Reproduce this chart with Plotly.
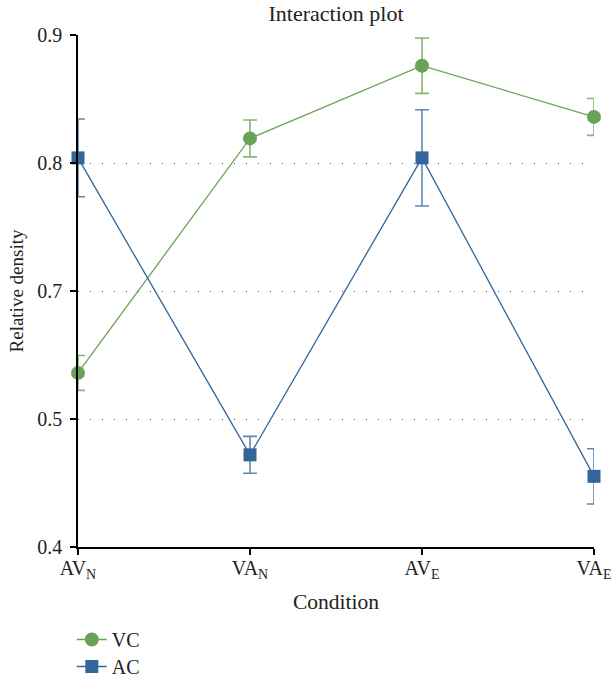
import plotly.graph_objects as go

# Data
conditions = ["AV<sub>N</sub>", "VA<sub>N</sub>", "AV<sub>E</sub>", "VA<sub>E</sub>"]
vc_mean = [0.570, 0.799, 0.870, 0.820]
vc_err = [0.017, 0.018, 0.027, 0.018]
ac_mean = [0.780, 0.490, 0.780, 0.469]
ac_err = [0.038, 0.018, 0.047, 0.027]
ytick_vals = [0.4, 0.525, 0.65, 0.775, 0.9]
ytick_text = ["0.4", "0.5", "0.7", "0.8", "0.9"]

FONT = "Liberation Serif"
FS = 20
green = "#6aa355"
green_err = "#86b673"
blue = "#336699"
blue_err = "#5f88b1"
txt = "#222"

fig = go.Figure()
fig.add_trace(go.Scatter(
    x=conditions, y=vc_mean, name="VC", mode="lines+markers",
    line=dict(color=green, width=1.3),
    marker=dict(symbol="circle", size=14, color=green),
    error_y=dict(type="data", array=vc_err, visible=True, color=green_err, thickness=1.6, width=7),
    cliponaxis=False, legend="legend",
))
fig.add_trace(go.Scatter(
    x=conditions, y=ac_mean, name="AC", mode="lines+markers",
    line=dict(color=blue, width=1.3),
    marker=dict(symbol="square", size=13, color=blue),
    error_y=dict(type="data", array=ac_err, visible=True, color=blue_err, thickness=1.6, width=7),
    cliponaxis=False, legend="legend2",
))

leg_common = dict(x=-0.012, xanchor="left", yanchor="top", orientation="v",
                  font=dict(family=FONT, size=20, color=txt), bgcolor="rgba(0,0,0,0)")

fig.update_layout(
    width=611, height=678,
    margin=dict(l=78, r=17, t=35, b=131, autoexpand=False),
    paper_bgcolor="white", plot_bgcolor="white",
    font=dict(family=FONT, size=FS, color=txt),
    title=dict(text="Interaction plot", x=336/611, xanchor="center", y=1-13/678, yanchor="middle",
               font=dict(family=FONT, size=22, color=txt)),
    showlegend=True,
    legend=dict(y=-0.1426, **leg_common),
    legend2=dict(y=-0.1953, **leg_common),
    xaxis=dict(
        type="category", range=[0, 3], showgrid=False, showline=True, linecolor="black", linewidth=1.5,
        ticks="outside", ticklen=6, tickcolor="black", tickwidth=1.5, automargin=False,
        ticklabelstandoff=-4,
        tickfont=dict(family=FONT, size=FS, color=txt),
        title=dict(text="Condition", font=dict(family=FONT, size=21.5, color=txt), standoff=13),
        zeroline=False,
    ),
    yaxis=dict(
        range=[0.4, 0.9], tickvals=ytick_vals, ticktext=ytick_text, automargin=False,
        showgrid=True, gridcolor="#555", gridwidth=1, griddash="1px,11px",
        showline=True, linecolor="black", linewidth=1.5,
        ticks="outside", ticklen=6, tickcolor="black", tickwidth=1.5,
        ticklabelstandoff=4,
        tickfont=dict(family=FONT, size=FS, color=txt),
        title=dict(text="Relative density", font=dict(family=FONT, size=19, color=txt), standoff=9),
        zeroline=False,
    ),
)

fig.write_html("out.html", config={"displayModeBar": False},
               post_script="document.body.style.margin='0';")
